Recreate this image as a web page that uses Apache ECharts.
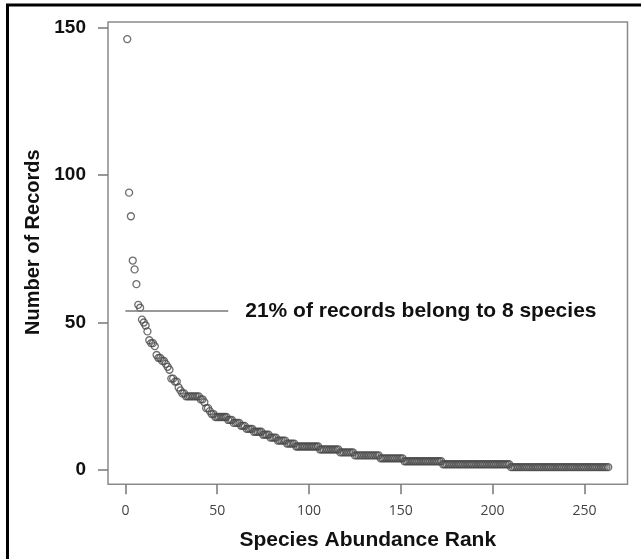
<!DOCTYPE html>
<html>
<head>
<meta charset="utf-8">
<script src="https://cdn.jsdelivr.net/npm/echarts@6/dist/echarts.min.js"></script>
<style>
html,body{margin:0;padding:0;background:#fff;}
#c{width:641px;height:559px;}
</style>
</head>
<body>
<div id="c"></div>
<script>
// Number of records per species, ordered by abundance rank (1..263)
const counts = [
  146, 94, 86, 71, 68, 63, 56, 55, 51, 50,
  49, 47, 44, 43, 43, 42, 39, 38, 38, 37,
  37, 36, 35, 34, 31, 31, 30, 30, 28, 27,
  26, 26, 25, 25, 25, 25, 25, 25, 25, 25,
  24, 24, 23, 21, 21, 20, 19, 19, 18, 18,
  18, 18, 18, 18, 18, 17, 17, 17, 16, 16,
  16, 16, 15, 15, 15, 14, 14, 14, 14, 13,
  13, 13, 13, 13, 12, 12, 12, 12, 11, 11,
  11, 11, 10, 10, 10, 10, 10, 9, 9, 9,
  9, 9, 8, 8, 8, 8, 8, 8, 8, 8,
  8, 8, 8, 8, 8, 7, 7, 7, 7, 7,
  7, 7, 7, 7, 7, 7, 6, 6, 6, 6,
  6, 6, 6, 6, 5, 5, 5, 5, 5, 5,
  5, 5, 5, 5, 5, 5, 5, 5, 4, 4,
  4, 4, 4, 4, 4, 4, 4, 4, 4, 4,
  4, 3, 3, 3, 3, 3, 3, 3, 3, 3,
  3, 3, 3, 3, 3, 3, 3, 3, 3, 3,
  3, 3, 2, 2, 2, 2, 2, 2, 2, 2,
  2, 2, 2, 2, 2, 2, 2, 2, 2, 2,
  2, 2, 2, 2, 2, 2, 2, 2, 2, 2,
  2, 2, 2, 2, 2, 2, 2, 2, 2, 1,
  1, 1, 1, 1, 1, 1, 1, 1, 1, 1,
  1, 1, 1, 1, 1, 1, 1, 1, 1, 1,
  1, 1, 1, 1, 1, 1, 1, 1, 1, 1,
  1, 1, 1, 1, 1, 1, 1, 1, 1, 1,
  1, 1, 1, 1, 1, 1, 1, 1, 1, 1,
  1, 1, 1
];
const xTicks = [0, 50, 100, 150, 200, 250];
const yTicks = [0, 50, 100, 150];
const annotationText = '21% of records belong to 8 species';
const annotationY = 54;
const annotationX = [0, 56];
const xTitle = 'Species Abundance Rank';
const yTitle = 'Number of Records';

const n = counts.length;
const maxC = Math.max(...counts), minC = Math.min(...counts);
const xPad = (n - 1) * 0.04, yPad = (maxC - minC) * 0.04;

const points = counts.map((v, i) => [i + 1, v]);

const chart = echarts.init(document.getElementById('c'), null, {renderer: 'canvas'});
chart.setOption({
  animation: false,
  backgroundColor: '#fff',
  grid: {
    left: 108, top: 22, right: 13.5, bottom: 74.7,
    show: true, borderColor: '#8a8a8a', borderWidth: 1.5, backgroundColor: 'transparent'
  },
  xAxis: {
    type: 'value',
    min: 1 - xPad, max: n + xPad,
    axisLine: {show: false, onZero: false},
    splitLine: {show: false},
    axisTick: {show: true, inside: false, length: 10, customValues: xTicks, lineStyle: {color: '#777', width: 1.5}},
    axisLabel: {customValues: xTicks, margin: 20, fontSize: 14, color: '#444', fontFamily: 'Open Sans'},
    name: xTitle, nameLocation: 'middle', nameGap: 45,
    nameTextStyle: {fontSize: 21, fontWeight: 'bold', color: '#111', fontFamily: 'Liberation Sans'}
  },
  yAxis: {
    type: 'value',
    min: minC - yPad, max: maxC + yPad,
    axisLine: {show: false, onZero: false},
    splitLine: {show: false},
    axisTick: {show: true, inside: false, length: 10, customValues: yTicks, lineStyle: {color: '#777', width: 1.5}},
    axisLabel: {customValues: yTicks, margin: 22, fontSize: 19, fontWeight: 'bold', color: '#111', fontFamily: 'Liberation Sans'},
    name: yTitle, nameLocation: 'middle', nameGap: 52,
    nameTextStyle: {fontSize: 20, fontWeight: 'bold', color: '#111', fontFamily: 'Liberation Sans', padding: [0, 0, 0, 22]}
  },
  series: [{
    type: 'scatter',
    data: points,
    symbol: 'circle',
    symbolSize: 7,
    itemStyle: {color: 'rgba(0,0,0,0)', borderColor: '#4a4a4a', borderWidth: 1.3},
    markLine: {
      silent: true,
      symbol: 'none',
      animation: false,
      lineStyle: {color: '#777', width: 1.5, type: 'solid'},
      label: {
        show: true, position: 'end', distance: 17,
        formatter: annotationText,
        fontSize: 21, fontWeight: 'bold', color: '#111', fontFamily: 'Liberation Sans'
      },
      data: [[{coord: [annotationX[0], annotationY]}, {coord: [annotationX[1], annotationY]}]]
    }
  }],
  graphic: [
    {type: 'line', shape: {x1: 7.5, y1: 5, x2: 7.5, y2: 559}, style: {stroke: '#000', lineWidth: 3}},
    {type: 'line', shape: {x1: 6, y1: 5, x2: 641, y2: 5}, style: {stroke: '#000', lineWidth: 3}}
  ]
});
</script>
</body>
</html>
